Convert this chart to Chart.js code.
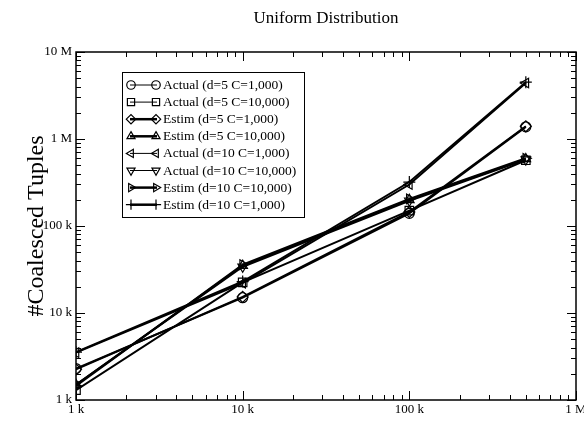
<!DOCTYPE html>
<html><head><meta charset="utf-8">
<script src="https://cdn.jsdelivr.net/npm/chart.js@4.4.1/dist/chart.umd.min.js"></script>
<style>html,body{margin:0;padding:0;background:#fff}</style>
</head><body>
<canvas id="c" width="584" height="421" style="width:584px;height:421px;display:block"></canvas>
<script>
// ---- data ----
const xValues = [1000, 10000, 100000, 500000];
const seriesLabels = [
  'Actual (d=5 C=1,000)',
  'Actual (d=5 C=10,000)',
  'Estim (d=5 C=1,000)',
  'Estim (d=5 C=10,000)',
  'Actual (d=10 C=1,000)',
  'Actual (d=10 C=10,000)',
  'Estim (d=10 C=10,000)',
  'Estim (d=10 C=1,000)'
];
const actualD5C1000   = [2300, 15000, 140000, 1380000];
const actualD5C10000  = [1300, 22500, 150000, 570000];
const estimD5C1000    = [2250, 15300, 145000, 1400000];
const estimD5C10000   = [1500, 35000, 200000, 590000];
const actualD10C1000  = [3500, 22000, 300000, 4400000];
const actualD10C10000 = [1500, 34000, 195000, 580000];
const estimD10C10000  = [1450, 36000, 205000, 600000];
const estimD10C1000   = [3550, 23000, 320000, 4500000];
const xTickValues = [1e3, 1e4, 1e5, 1e6];
const xTickLabels = ['1 k', '10 k', '100 k', '1 M'];
const yTickValues = [1e3, 1e4, 1e5, 1e6, 1e7];
const yTickLabels = ['1 k', '10 k', '100 k', '1 M', '10 M'];
const chartTitle = 'Uniform Distribution';
const yTitle = '#Coalesced Tuples';

const seriesValues = [actualD5C1000, actualD5C10000, estimD5C1000, estimD5C10000,
                      actualD10C1000, actualD10C10000, estimD10C10000, estimD10C1000];
const styles = [
  {ps:'circle', rot:0, r:5, lw:1},
  {ps:'rect', rot:0, r:6, lw:1},
  {ps:'rectRot', rot:0, r:5.5, lw:2.5},
  {ps:'triangle', rot:0, r:5.5, lw:2.5},
  {ps:'triangle', rot:-90, r:5.5, lw:1},
  {ps:'triangle', rot:180, r:5.5, lw:1},
  {ps:'triangle', rot:90, r:5.5, lw:2.5},
  {ps:'cross', rot:0, r:6, lw:2.5}
];
const FONT = '"Liberation Serif", "Times New Roman", serif';

const datasets = seriesValues.map((arr, i) => ({
  label: seriesLabels[i],
  data: xValues.map((x, j) => ({x: x, y: arr[j]})),
  borderColor: '#000',
  backgroundColor: 'rgba(0,0,0,0)',
  borderWidth: 2,
  legendLineWidth: styles[i].lw,
  pointStyle: styles[i].ps,
  pointRotation: styles[i].rot,
  pointRadius: styles[i].r,
  pointBorderWidth: 1.2,
  pointBorderColor: '#000',
  pointBackgroundColor: 'rgba(0,0,0,0)',
  tension: 0,
  fill: false
}));

function minorValues(min, max) {
  const out = [];
  for (let d = min; d < max; d *= 10) {
    for (let k = 2; k <= 9; k++) out.push(d * k);
  }
  return out;
}

const framePlugin = {
  id: 'frame',
  afterDatasetsDraw(chart) {
    const {ctx, chartArea: a, scales} = chart;
    ctx.save();
    ctx.strokeStyle = '#000';
    ctx.lineWidth = 1.5;
    ctx.strokeRect(a.left, a.top, a.right - a.left, a.bottom - a.top);
    ctx.lineWidth = 1;
    const majorLen = 9, minorLen = 5;
    const drawX = (v, len) => {
      const px = Math.round(scales.x.getPixelForValue(v)) + 0.5;
      ctx.beginPath();
      ctx.moveTo(px, a.bottom); ctx.lineTo(px, a.bottom - len);
      ctx.moveTo(px, a.top); ctx.lineTo(px, a.top + len);
      ctx.stroke();
    };
    const drawY = (v, len) => {
      const py = Math.round(scales.y.getPixelForValue(v)) + 0.5;
      ctx.beginPath();
      ctx.moveTo(a.left, py); ctx.lineTo(a.left + len, py);
      ctx.moveTo(a.right, py); ctx.lineTo(a.right - len, py);
      ctx.stroke();
    };
    xTickValues.forEach(v => drawX(v, majorLen));
    minorValues(1e3, 1e6).forEach(v => drawX(v, minorLen));
    yTickValues.forEach(v => drawY(v, majorLen));
    minorValues(1e3, 1e7).forEach(v => drawY(v, minorLen));
    ctx.restore();
  }
};

const legendPlugin = {
  id: 'boxLegend',
  afterDraw(chart) {
    const {ctx, chartArea: a} = chart;
    const bx = a.left + 46, by = a.top + 20, bw = 182, bh = 145;
    ctx.save();
    ctx.fillStyle = '#fff';
    ctx.fillRect(bx, by, bw, bh);
    ctx.strokeStyle = '#000';
    ctx.lineWidth = 1;
    ctx.strokeRect(bx + 0.5, by + 0.5, bw, bh);
    ctx.font = '13.5px ' + FONT;
    ctx.textBaseline = 'middle';
    ctx.fillStyle = '#000';
    chart.data.datasets.forEach((ds, i) => {
      const y = by + 13 + i * 17.1;
      ctx.strokeStyle = '#000';
      ctx.lineWidth = ds.legendLineWidth;
      ctx.beginPath();
      ctx.moveTo(bx + 8, y); ctx.lineTo(bx + 35, y);
      ctx.stroke();
      const opts = {pointStyle: ds.pointStyle, radius: ds.pointRadius * 0.85, rotation: ds.pointRotation, borderWidth: 1.2};
      ctx.lineWidth = 1.2;
      ctx.fillStyle = 'rgba(0,0,0,0)';
      Chart.helpers.drawPoint(ctx, opts, bx + 9, y);
      Chart.helpers.drawPoint(ctx, opts, bx + 34, y);
      ctx.fillStyle = '#000';
      ctx.fillText(ds.label, bx + 41, y + 0.5);
    });
    ctx.restore();
  }
};

new Chart(document.getElementById('c'), {
  type: 'line',
  data: {datasets},
  options: {
    responsive: false,
    animation: false,
    devicePixelRatio: 1,
    layout: {padding: {left: 0, right: 8, top: 0, bottom: 0}},
    plugins: {
      legend: {display: false},
      tooltip: {enabled: false},
      title: {
        display: true, text: chartTitle, color: '#000', fullSize: false,
        font: {family: FONT, size: 17, weight: 'normal', lineHeight: 1.2},
        padding: {top: 8, bottom: 23.6}
      }
    },
    scales: {
      x: {
        type: 'logarithmic', min: 1e3, max: 1e6, position: 'bottom',
        grid: {display: false, drawTicks: false},
        border: {display: false},
        afterBuildTicks: s => { s.ticks = xTickValues.map(v => ({value: v})); },
        afterFit: s => { s.height = 21; s.paddingLeft = 0; s.paddingRight = 0; },
        ticks: {
          color: '#000', padding: 2, maxRotation: 0, autoSkip: false,
          font: {family: FONT, size: 13},
          callback: (v) => { const i = xTickValues.indexOf(v); return i >= 0 ? xTickLabels[i] : ''; }
        }
      },
      y: {
        type: 'logarithmic', min: 1e3, max: 1e7,
        grid: {display: false, drawTicks: false},
        border: {display: false},
        afterBuildTicks: s => { s.ticks = yTickValues.map(v => ({value: v})); },
        afterFit: s => { s.width = 76; },
        title: {
          display: true, text: yTitle, color: '#000',
          font: {family: FONT, size: 24, weight: 'normal', lineHeight: 1.2},
          padding: {top: 22}
        },
        ticks: {
          color: '#000', padding: 4, autoSkip: false,
          font: {family: FONT, size: 13},
          callback: (v) => { const i = yTickValues.indexOf(v); return i >= 0 ? yTickLabels[i] : ''; }
        }
      }
    }
  },
  plugins: [framePlugin, legendPlugin]
});
</script>
</body></html>
